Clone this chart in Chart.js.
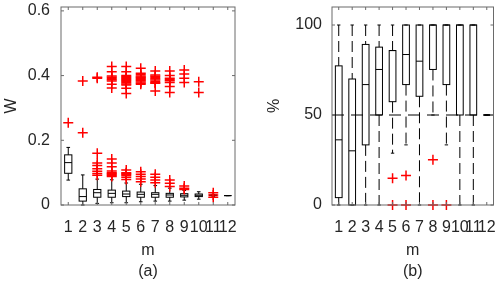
<!DOCTYPE html>
<html>
<head>
<meta charset="utf-8">
<script src="https://cdn.jsdelivr.net/npm/chart.js@4"></script>
<style>
  html, body { margin: 0; padding: 0; background: #fff; }
  .wrap { display: flex; width: 500px; height: 284px; }
  canvas { display: block; }
</style>
</head>
<body>
<div class="wrap">
  <canvas id="chartA" width="250" height="284"></canvas>
  <canvas id="chartB" width="250" height="284"></canvas>
</div>
<script>
const mValues = [1, 2, 3, 4, 5, 6, 7, 8, 9, 10, 11, 12];

// (a) W per m
const aWhiskerLow  = [0.077, 0.000, 0.005, 0.007, 0.007, 0.010, 0.012, 0.012, 0.015, 0.018, 0.027, 0.029];
const aQ1          = [0.098, 0.012, 0.024, 0.024, 0.026, 0.024, 0.024, 0.024, 0.025, 0.026, 0.029, 0.029];
const aMedian      = [0.131, 0.026, 0.038, 0.036, 0.034, 0.033, 0.033, 0.031, 0.030, 0.030, 0.030, 0.029];
const aQ3          = [0.155, 0.050, 0.048, 0.046, 0.043, 0.040, 0.038, 0.036, 0.035, 0.034, 0.031, 0.029];
const aWhiskerHigh = [0.178, 0.093, 0.080, 0.078, 0.068, 0.064, 0.060, 0.052, 0.045, 0.041, 0.033, 0.029];
const aOutliers = [
  [0.254],
  [0.383, 0.223],
  [0.395, 0.392, 0.160, 0.130, 0.122, 0.112, 0.104, 0.097, 0.092],
  [0.428, 0.412, 0.399, 0.395, 0.391, 0.387, 0.383, 0.373, 0.362, 0.142, 0.130, 0.118, 0.105, 0.100, 0.097, 0.094, 0.091, 0.088],
  [0.428, 0.412, 0.400, 0.397, 0.394, 0.391, 0.388, 0.385, 0.382, 0.378, 0.374, 0.371, 0.361, 0.345, 0.108, 0.100, 0.097, 0.094, 0.091, 0.086, 0.079],
  [0.423, 0.407, 0.403, 0.399, 0.396, 0.393, 0.390, 0.387, 0.384, 0.380, 0.376, 0.373, 0.103, 0.095, 0.088, 0.080, 0.072],
  [0.414, 0.402, 0.398, 0.394, 0.390, 0.386, 0.382, 0.378, 0.376, 0.352, 0.095, 0.086, 0.077, 0.069],
  [0.414, 0.400, 0.392, 0.388, 0.384, 0.379, 0.366, 0.348, 0.077, 0.067, 0.057],
  [0.417, 0.405, 0.392, 0.379, 0.059, 0.052, 0.048],
  [0.381, 0.348],
  [0.038, 0.031, 0.024],
  []
];
const aTicks = [0, 0.2, 0.4, 0.6];
const aTickLabels = ["0", "0.2", "0.4", "0.6"];

// (b) % per m
const bWhiskerLow  = [0, 0, 0, 0, 28.8, 33.4, 0, 50, 33.4, 0, 0, 50];
const bQ1          = [4.1, 0, 33.4, 50, 57.4, 66.9, 60.4, 75.3, 66.9, 50, 50, 50];
const bMedian      = [36.2, 30.1, 66.9, 75.3, 85.8, 83.6, 79.9, 100, 100, 100, 100, 50];
const bQ3          = [77.3, 70.0, 89.2, 87.7, 85.8, 100, 100, 100, 100, 100, 100, 50];
const bWhiskerHigh = [100, 100, 100, 100, 100, 100, 100, 100, 100, 100, 100, 50];
const bOutliers = [[], [], [], [], [14.9, 0], [16.4, 0], [], [25.1, 0], [0], [], [], []];
const bRefLine = 50;
const bTicks = [0, 50, 100];
const bTickLabels = ["0", "50", "100"];

const TEXT = "#262626";
const FONT = "'Liberation Sans', Arial, Helvetica, sans-serif";

const boxPlot = {
  id: "boxPlot",
  beforeDatasetsDraw(chart, args, o) {
    const { ctx, chartArea: ca, scales: { x, y } } = chart;
    const half = (x.getPixelForValue(1.25) - x.getPixelForValue(1));
    const capHalf = half / 2;
    ctx.save();
    ctx.strokeStyle = "#000";
    ctx.lineWidth = 1;
    const seg = (x1, y1, x2, y2) => { ctx.beginPath(); ctx.moveTo(x1, y1); ctx.lineTo(x2, y2); ctx.stroke(); };

    // 50% reference line
    if (o.refLine != null) {
      ctx.setLineDash([12, 7]);
      const ry = y.getPixelForValue(o.refLine);
      seg(ca.left, ry, ca.right, ry);
    }

    o.q1.forEach((q1, i) => {
      const cx = x.getPixelForValue(mValues[i]);
      const yLo = y.getPixelForValue(o.lo[i]), yQ1 = y.getPixelForValue(q1);
      const yMed = y.getPixelForValue(o.med[i]), yQ3 = y.getPixelForValue(o.q3[i]);
      const yHi = y.getPixelForValue(o.hi[i]);
      ctx.setLineDash(o.dash);
      if (yHi < yQ3) seg(cx, yHi, cx, yQ3);
      if (yLo > yQ1) seg(cx, yQ1, cx, yLo);
      ctx.setLineDash([]);
      seg(cx - capHalf, yHi, cx + capHalf, yHi);
      seg(cx - capHalf, yLo, cx + capHalf, yLo);
      ctx.strokeRect(cx - half, yQ3, half * 2, yQ1 - yQ3);
      seg(cx - half, yMed, cx + half, yMed);
    });
    ctx.restore();
  },
  afterDraw(chart) {
    const { ctx, chartArea: ca, scales: { x, y } } = chart;
    ctx.save();
    ctx.strokeStyle = "#6a6a6a";
    ctx.lineWidth = 1;
    ctx.strokeRect(ca.left, ca.top, ca.right - ca.left, ca.bottom - ca.top);
    // inward ticks on all four sides
    ctx.beginPath();
    x.ticks.forEach(t => {
      const px = x.getPixelForValue(t.value);
      ctx.moveTo(px, ca.bottom); ctx.lineTo(px, ca.bottom - 3);
      ctx.moveTo(px, ca.top); ctx.lineTo(px, ca.top + 3);
    });
    y.ticks.forEach(t => {
      const py = y.getPixelForValue(t.value);
      ctx.moveTo(ca.left, py); ctx.lineTo(ca.left + 3, py);
      ctx.moveTo(ca.right, py); ctx.lineTo(ca.right - 3, py);
    });
    ctx.stroke();
    ctx.restore();
  }
};

function outlierPoints(lists) {
  const pts = [];
  lists.forEach((vals, i) => vals.forEach(v => pts.push({ x: mValues[i], y: v })));
  return pts;
}

function makeChart(id, cfg) {
  return new Chart(document.getElementById(id), {
    type: "scatter",
    data: {
      datasets: [{
        data: outlierPoints(cfg.outliers),
        pointStyle: "cross",
        pointRadius: 5,
        pointHoverRadius: 5,
        borderColor: "#ff0000",
        backgroundColor: "#ff0000",
        borderWidth: 1.5,
        clip: false,
      }]
    },
    options: {
      responsive: false,
      animation: false,
      events: [],
      layout: { padding: { top: 7, right: cfg.padRight, left: 0, bottom: 0 } },
      plugins: {
        legend: { display: false },
        tooltip: { enabled: false },
        boxPlot: cfg.stats,
      },
      scales: {
        x: {
          type: "linear", min: 0.5, max: 12.5,
          grid: { display: false, drawTicks: false },
          border: { display: false },
          afterBuildTicks: s => { s.ticks = mValues.map(v => ({ value: v })); },
          afterFit: s => { s.height = 79; s.paddingLeft = 0; s.paddingRight = 0; },
          ticks: {
            autoSkip: false, maxRotation: 0, minRotation: 0, padding: 13,
            color: TEXT, font: { family: FONT, size: 16 },
            callback: v => String(v),
          },
          title: {
            display: true, text: ["m", cfg.caption], color: TEXT,
            font: { family: FONT, size: 16, lineHeight: 1.3125 },
            padding: { top: 0, bottom: 2 },
          },
        },
        y: {
          type: "linear", min: 0, max: cfg.yMax,
          grid: { display: false, drawTicks: false },
          border: { display: false },
          afterBuildTicks: s => { s.ticks = cfg.ticks.map(v => ({ value: v })); },
          afterFit: s => { s.width = cfg.yWidth; s.paddingTop = 0; s.paddingBottom = 0; },
          ticks: {
            padding: cfg.tickPad, color: TEXT, font: { family: FONT, size: 16 },
            callback: (v) => cfg.tickLabels[cfg.ticks.indexOf(v)],
          },
          title: {
            display: true, text: cfg.yTitle, color: TEXT,
            font: { family: FONT, size: 16 },
            padding: { top: cfg.titlePad, bottom: 0 },
          },
        },
      },
    },
    plugins: [boxPlot],
  });
}

makeChart("chartA", {
  outliers: aOutliers,
  stats: { lo: aWhiskerLow, q1: aQ1, med: aMedian, q3: aQ3, hi: aWhiskerHigh, dash: [], refLine: null },
  yMax: 0.612, ticks: aTicks, tickLabels: aTickLabels,
  yTitle: "W", caption: "(a)", yWidth: 61, padRight: 15, tickPad: 11, titlePad: 2,
});

makeChart("chartB", {
  outliers: bOutliers,
  stats: { lo: bWhiskerLow, q1: bQ1, med: bMedian, q3: bQ3, hi: bWhiskerHigh, dash: [11, 5], refLine: bRefLine },
  yMax: 110, ticks: bTicks, tickLabels: bTickLabels,
  yTitle: "%", caption: "(b)", yWidth: 82, padRight: 5, tickPad: 10, titlePad: 15,
});
</script>
</body>
</html>
